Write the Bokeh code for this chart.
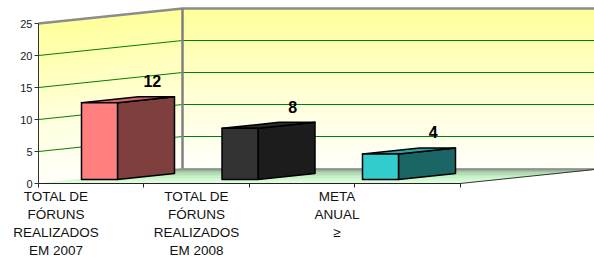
from bokeh.plotting import figure
from bokeh.models import Range1d, LinearAxis, FixedTicker, CustomJSTickFormatter
from bokeh.core.properties import value
from bokeh.embed import file_html
from bokeh.resources import INLINE

# ---- data ----
categories = ["TOTAL DE\nFÓRUNS\nREALIZADOS\nEM 2007",
              "TOTAL DE\nFÓRUNS\nREALIZADOS\nEM 2008",
              "META\nANUAL\n≥"]
values = [12, 8, 4]
value_labels = ["12", "8", "4"]
y_ticks = [0, 5, 10, 15, 20, 25]
front_colors = ["#FF7F7F", "#333333", "#33CCCC"]
side_colors = ["#7F3F3F", "#1C1C1C", "#1A6666"]
top_colors = ["#CC6666", "#2A2A2A", "#29A3A3"]

# ---- geometry (styling) ----
W, H = 594, 258
X_PX = 140.5          # px per category
Y_PX = 6.4            # px per value unit
OX, OY = 38, 183      # origin in figure px (from left / from top)
DX, DY = 144 / X_PX, 15 / Y_PX          # wall depth
BDX, BDY = 57 / X_PX, 6 / Y_PX          # bar depth
BAR_OFF, BAR_W, BAR_BASE = 43 / X_PX, 36 / X_PX, 4 / Y_PX
YMAX = 25
N_CAT = len(values)
XEND = (W - OX) / X_PX + 0.2

p = figure(width=W, height=H, output_backend="svg", toolbar_location=None,
           x_range=Range1d(-OX / X_PX, (W - OX) / X_PX),
           y_range=Range1d(-(H - OY) / Y_PX, OY / Y_PX),
           x_axis_type=None, y_axis_type=None, min_border=0,
           background_fill_color="white", border_fill_color="white")
p.outline_line_color = None
p.title.visible = False


def hex2rgb(h):
    h = h.lstrip("#")
    return [int(h[i:i + 2], 16) for i in (0, 2, 4)]


def grad(stops, t):
    for (t1, c1), (t2, c2) in zip(stops, stops[1:]):
        if t1 <= t <= t2:
            f = (t - t1) / (t2 - t1) if t2 > t1 else 0
            a, b = hex2rgb(c1), hex2rgb(c2)
            return "#%02x%02x%02x" % tuple(round(a[k] + (b[k] - a[k]) * f) for k in range(3))
    return stops[-1][1]


wall_stops = [(0, "#FFFFFA"), (0.35, "#FFFFE0"), (1, "#FFFF99")]
floor_stops = [(0, "#E4FFE4"), (0.45, "#C8F2C8"), (0.8, "#A4CFA4"), (1, "#7F7F7F")]

# back wall + left wall gradient bands
N = 50
bx, by, bc = [], [], []
lx, ly, lc = [], [], []
for k in range(N):
    a, b = YMAX * k / N, YMAX * (k + 1) / N
    c = grad(wall_stops, (k + 0.5) / N)
    bx.append([DX, XEND, XEND, DX]); by.append([a + DY, a + DY, b + DY + 0.05, b + DY + 0.05]); bc.append(c)
    lx.append([0, DX, DX, 0]); ly.append([a, a + DY, b + DY + 0.05, b + 0.05]); lc.append(c)
p.patches(bx, by, fill_color=bc, line_color=None)
p.patches(lx, ly, fill_color=lc, line_color=None)

# floor gradient
NF = 20
fx, fy, fc = [], [], []
for k in range(NF):
    t1, t2 = k / NF, (k + 1) / NF
    fx.append([t1 * DX, N_CAT + t1 * DX, N_CAT + t2 * DX, t2 * DX])
    fy.append([t1 * DY, t1 * DY, t2 * DY, t2 * DY])
    fc.append(grad(floor_stops, (k + 0.5) / NF))
p.patches(fx, fy, fill_color=fc, line_color=fc, line_width=0.5)

# gridlines
grid = [t for t in y_ticks if 0 < t < YMAX]
p.segment(x0=[DX] * len(grid), y0=[t + DY for t in grid], x1=[XEND] * len(grid),
          y1=[t + DY for t in grid], line_color="#008000", line_width=1)
p.segment(x0=[0] * len(grid), y0=grid, x1=[DX] * len(grid),
          y1=[t + DY for t in grid], line_color="#008000", line_width=1)

# wall edges
p.line([0, DX, XEND], [YMAX, YMAX + DY, YMAX + DY], line_color="#8C8C8C", line_width=2.5)
p.line([DX, DX], [DY, YMAX + DY], line_color="#808080", line_width=2.5)
p.line([N_CAT, N_CAT + DX], [0, DY], line_color="#333333", line_width=1)

# bars
fxs, fys, sxs, sys_, txs, tys = [], [], [], [], [], []
lab_x, lab_y = [], []
for i, v in enumerate(values):
    xl = i + BAR_OFF
    xr = xl + BAR_W
    b0 = BAR_BASE
    t = b0 + v
    fxs.append([xl, xr, xr, xl]); fys.append([b0, b0, t, t])
    sxs.append([xr, xr + BDX, xr + BDX, xr]); sys_.append([b0, b0 + BDY, t + BDY, t])
    txs.append([xl, xr, xr + BDX, xl + BDX]); tys.append([t, t, t + BDY, t + BDY])
    lab_x.append(xl + BAR_W / 2 + BDX - 0.03)
    lab_y.append(t + BDY + 1.5)
p.patches(sxs, sys_, fill_color=side_colors, line_color="black", line_width=1.5, line_join="round")
p.patches(txs, tys, fill_color=top_colors, line_color="black", line_width=1.5, line_join="round")
p.patches(fxs, fys, fill_color=front_colors, line_color="black", line_width=1.5, line_join="round")

p.text(lab_x, lab_y, text=value_labels, text_font=value("Liberation Sans"),
       text_font_size="16px", text_font_style="bold", text_color="black",
       text_align="center", text_baseline="bottom")

# category labels
p.text([i + 0.125 for i in range(N_CAT)], [-5.5 / Y_PX] * N_CAT, text=categories,
       text_font=value("Liberation Sans"), text_font_size="13.5px", text_color="#111111",
       text_align="center", text_baseline="top", text_line_height=1.21)

# axes
yaxis = LinearAxis(fixed_location=0, ticker=FixedTicker(ticks=y_ticks), bounds=(0, YMAX))
yaxis.axis_line_color = "#333333"
yaxis.major_tick_line_color = "#333333"
yaxis.major_tick_out = 4
yaxis.major_tick_in = 0
yaxis.minor_tick_line_color = None
yaxis.major_label_standoff = 2
yaxis.major_label_text_font = "Liberation Sans"
yaxis.major_label_text_font_size = "11px"
yaxis.major_label_text_color = "#1a1a1a"
p.add_layout(yaxis, "left")

xaxis = LinearAxis(fixed_location=0, ticker=FixedTicker(ticks=[0, 0.75, 1.5, 2.25, 3.0]),
                   bounds=(0, N_CAT), formatter=CustomJSTickFormatter(code="return ''"))
xaxis.axis_line_color = "#222222"
xaxis.axis_line_width = 1.2
xaxis.major_tick_line_color = "#222222"
xaxis.major_tick_out = 4
xaxis.major_tick_in = 0
xaxis.minor_tick_line_color = None
p.add_layout(xaxis, "below")

open("out.html", "w").write(file_html(p, INLINE))
